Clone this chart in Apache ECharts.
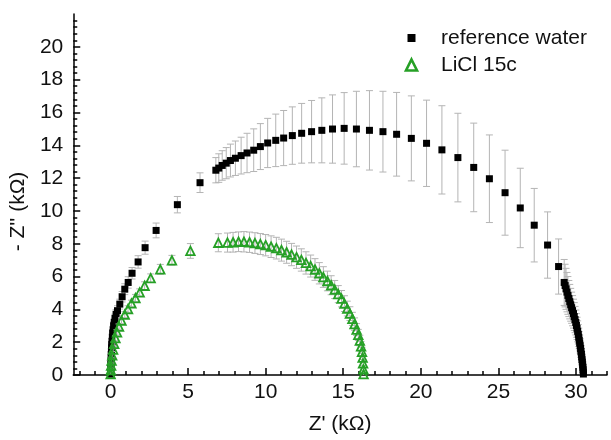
<!DOCTYPE html>
<html><head><meta charset="utf-8">
<script src="https://cdn.jsdelivr.net/npm/echarts@6/dist/echarts.min.js"></script>
<style>html,body{margin:0;padding:0;background:#fff}#c{width:611px;height:440px}</style>
</head><body><div id="c"></div>
<script>
// Tick labels
const xTickValues = [0, 5, 10, 15, 20, 25, 30];
const yTickValues = [0, 2, 4, 6, 8, 10, 12, 14, 16, 18, 20];

// reference water: Z' (kΩ), -Z'' (kΩ), error (kΩ)
const refX = [0.02,0.02,0.03,0.03,0.04,0.05,0.05,0.06,0.07,0.08,0.10,0.12,0.14,0.17,0.20,0.24,0.29,0.36,0.45,0.60,0.75,0.92,1.14,1.39,1.78,2.23,2.94,4.31,5.77,6.79,6.98,7.20,7.46,7.73,8.05,8.42,8.80,9.23,9.66,10.13,10.65,11.16,11.72,12.32,12.96,13.62,14.31,15.06,15.85,16.69,17.56,18.44,19.39,20.37,21.36,22.39,23.41,24.42,25.43,26.41,27.31,28.17,28.88,29.24,29.30,29.36,29.42,29.48,29.54,29.60,29.66,29.72,29.78,29.84,29.89,29.94,29.99,30.03,30.07,30.11,30.15,30.18,30.21,30.24,30.27,30.30,30.32,30.35,30.37,30.39,30.41,30.43,30.45,30.46,30.47,30.48];
const refY = [0.05,0.25,0.45,0.65,0.85,1.05,1.25,1.45,1.65,1.85,2.05,2.30,2.55,2.75,3.00,3.20,3.45,3.70,3.92,4.32,4.77,5.23,5.64,6.20,6.89,7.76,8.81,10.38,11.72,12.48,12.61,12.77,12.91,13.07,13.21,13.37,13.53,13.70,13.92,14.14,14.30,14.44,14.59,14.73,14.83,14.91,14.99,15.03,14.99,14.91,14.83,14.67,14.42,14.12,13.72,13.25,12.65,11.96,11.11,10.18,9.13,7.92,6.61,5.64,5.45,5.25,5.05,4.85,4.66,4.47,4.28,4.10,3.92,3.74,3.56,3.38,3.20,3.02,2.84,2.66,2.48,2.30,2.12,1.95,1.78,1.61,1.44,1.27,1.10,0.94,0.78,0.62,0.47,0.32,0.18,0.06];
const refErr = [0.10,0.10,0.12,0.12,0.14,0.15,0.15,0.16,0.18,0.18,0.20,0.20,0.22,0.22,0.24,0.25,0.26,0.28,0.30,0.30,0.32,0.33,0.35,0.35,0.38,0.40,0.45,0.50,0.60,0.77,0.87,0.90,0.95,1.00,1.05,1.12,1.20,1.30,1.40,1.50,1.60,1.68,1.75,1.82,1.90,1.98,2.08,2.18,2.30,2.42,2.46,2.55,2.59,2.63,2.69,2.70,2.70,2.67,2.59,2.42,2.24,2.02,1.68,1.40,1.30,1.25,1.20,1.15,1.10,1.05,1.00,0.95,0.92,0.88,0.85,0.80,0.76,0.72,0.68,0.64,0.60,0.56,0.52,0.48,0.44,0.40,0.37,0.34,0.31,0.28,0.25,0.22,0.19,0.16,0.13,0.10];

// LiCl 15c
const liclX = [0.01,0.02,0.04,0.07,0.11,0.17,0.24,0.32,0.42,0.55,0.71,0.92,1.13,1.35,1.61,1.88,2.20,2.59,3.21,3.96,5.15,6.95,7.54,7.90,8.25,8.60,8.96,9.31,9.66,10.00,10.35,10.69,11.02,11.35,11.67,11.99,12.30,12.60,12.90,13.18,13.46,13.72,13.98,14.22,14.45,14.68,14.89,15.08,15.26,15.43,15.59,15.73,15.86,15.97,16.07,16.15,16.21,16.25,16.28,16.30,16.31];
const liclY = [0.05,0.30,0.58,0.88,1.20,1.55,1.90,2.25,2.60,2.95,3.31,3.68,4.02,4.36,4.69,5.03,5.44,5.90,6.44,6.99,7.56,8.06,8.07,8.09,8.12,8.12,8.09,8.04,7.98,7.91,7.82,7.73,7.61,7.48,7.34,7.18,7.01,6.83,6.64,6.43,6.20,5.97,5.73,5.47,5.21,4.93,4.65,4.35,4.05,3.74,3.42,3.10,2.77,2.44,2.10,1.75,1.41,1.06,0.71,0.35,0.05];
const liclErr = [0.08,0.08,0.10,0.10,0.12,0.12,0.14,0.14,0.16,0.16,0.18,0.18,0.20,0.20,0.22,0.22,0.24,0.26,0.30,0.30,0.45,0.55,0.58,0.60,0.60,0.62,0.62,0.63,0.64,0.65,0.66,0.66,0.67,0.67,0.68,0.68,0.68,0.68,0.67,0.66,0.65,0.63,0.60,0.58,0.55,0.52,0.50,0.48,0.45,0.42,0.40,0.38,0.36,0.34,0.32,0.30,0.28,0.26,0.24,0.22,0.20];

const xMin = -2.4, xMax = 32, yMin = 0, yMax = 22;

function zip(a, b, c) { return a.map((v, i) => c ? [v, b[i], c[i]] : [v, b[i]]); }
function minors(from, to, step, majorStep) {
  const out = [];
  for (let k = Math.ceil(from / step); k * step <= to + 1e-9; k++) {
    const v = +(k * step).toFixed(4);
    if (Math.abs(v / majorStep - Math.round(v / majorStep)) > 1e-6) out.push(v);
  }
  return out;
}

const FONT = '"Liberation Sans", Arial, sans-serif';
const TXT = '#111';
const GREEN = '#26a026';
const BAR = '#b4b4b4';
const FS = 21;

function errRender(params, api) {
  const x = api.value(0), y = api.value(1), e = api.value(2);
  const hi = api.coord([x, y + e]), lo = api.coord([x, y - e]);
  const w = 3.5;
  const st = { stroke: BAR, lineWidth: 1 };
  return { type: 'group', children: [
    { type: 'line', shape: { x1: hi[0], y1: hi[1], x2: lo[0], y2: lo[1] }, style: st },
    { type: 'line', shape: { x1: hi[0] - w, y1: hi[1], x2: hi[0] + w, y2: hi[1] }, style: st },
    { type: 'line', shape: { x1: lo[0] - w, y1: lo[1], x2: lo[0] + w, y2: lo[1] }, style: st }
  ]};
}

const chart = echarts.init(document.getElementById('c'), null, { renderer: 'canvas' });
const axisLineStyle = { color: '#000', width: 1.5 };
chart.setOption({
  animation: false,
  backgroundColor: '#fff',
  textStyle: { fontFamily: FONT },
  grid: { left: 72, right: 4, top: 14, bottom: 62 },
  legend: {
    orient: 'vertical', left: 399.5, top: 22.5, itemWidth: 11, itemHeight: 11, itemGap: 6,
    textStyle: { fontSize: FS, color: TXT, fontFamily: FONT, padding: [0, 0, 0, 19], lineHeight: 21 },
    data: [
      { name: 'reference water', icon: 'rect', itemStyle: { color: '#000', borderColor: '#fff', borderWidth: 3, opacity: 1 } },
      { name: 'LiCl 15c', icon: 'triangle', itemStyle: { color: '#fff', borderColor: GREEN, borderWidth: 2.6, opacity: 1 } }
    ]
  },
  xAxis: [
    {
      type: 'value', min: xMin, max: xMax,
      name: "Z' (kΩ)", nameLocation: 'middle', nameGap: 39,
      nameTextStyle: { fontSize: FS, color: TXT, fontFamily: FONT },
      axisLine: { show: true, onZero: false, lineStyle: axisLineStyle },
      axisTick: { show: true, inside: true, length: 7, customValues: xTickValues, lineStyle: { color: '#000', width: 1.5 } },
      axisLabel: { show: true, customValues: xTickValues, fontSize: FS, color: TXT, margin: 7, fontFamily: FONT },
      splitLine: { show: false }
    },
    {
      type: 'value', min: xMin, max: xMax, position: 'bottom',
      axisLine: { show: false, onZero: false },
      axisTick: { show: true, inside: true, length: 4, customValues: minors(xMin, xMax, 1, 5), lineStyle: { color: '#000', width: 1.5 } },
      axisLabel: { show: false },
      splitLine: { show: false }
    }
  ],
  yAxis: [
    {
      type: 'value', min: yMin, max: yMax,
      name: "- Z'' (kΩ)", nameLocation: 'middle', nameGap: 35, nameRotate: 90,
      nameTextStyle: { fontSize: FS, color: TXT, fontFamily: FONT, padding: [0, 34, 0, 0] },
      axisLine: { show: true, onZero: false, lineStyle: axisLineStyle },
      axisTick: { show: true, inside: true, length: 7, customValues: yTickValues, lineStyle: { color: '#000', width: 1.5 } },
      axisLabel: { show: true, customValues: yTickValues, fontSize: FS, color: TXT, margin: 10, fontFamily: FONT },
      splitLine: { show: false }
    },
    {
      type: 'value', min: yMin, max: yMax, position: 'left',
      axisLine: { show: false, onZero: false },
      axisTick: { show: true, inside: true, length: 4, customValues: minors(yMin, 21.7, 0.4, 2), lineStyle: { color: '#000', width: 1.5 } },
      axisLabel: { show: false },
      splitLine: { show: false }
    }
  ],
  series: [
    { type: 'custom', name: 'refErr', renderItem: errRender, data: zip(refX, refY, refErr), clip: true, z: 1,
      encode: { x: 0, y: 1 }, silent: true },
    { type: 'scatter', name: 'reference water', data: zip(refX, refY), symbol: 'rect', symbolSize: 7,
      itemStyle: { color: '#000', opacity: 1 }, z: 2 },
    { type: 'custom', name: 'liclErr', renderItem: errRender, data: zip(liclX, liclY, liclErr), clip: true, z: 3,
      encode: { x: 0, y: 1 }, silent: true },
    { type: 'scatter', name: 'LiCl 15c', data: zip(liclX, liclY), symbol: 'triangle', symbolSize: 8.5,
      itemStyle: { color: 'rgba(255,255,255,0)', borderColor: GREEN, borderWidth: 1.8, opacity: 1 }, z: 4 }
  ]
});
</script>
</body></html>
